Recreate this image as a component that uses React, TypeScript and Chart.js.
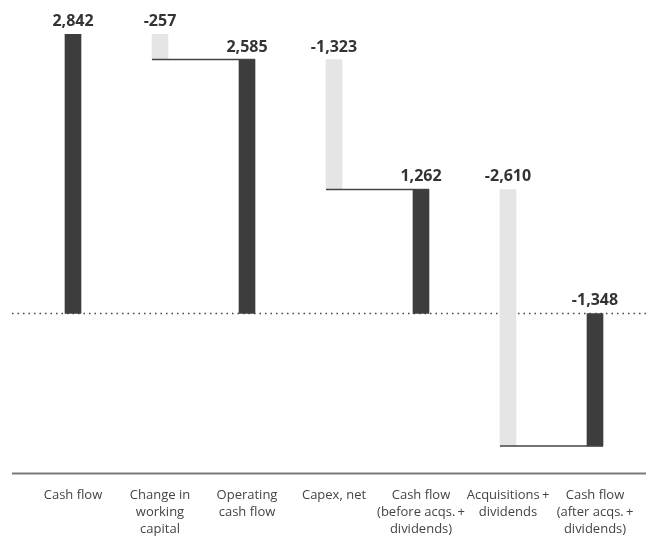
import React, { useEffect, useRef } from "react";
import { Chart, registerables } from "chart.js";

Chart.register(...registerables);

const categories: string[][] = [
  ["Cash flow"],
  ["Change in", "working", "capital"],
  ["Operating", "cash flow"],
  ["Capex, net"],
  ["Cash flow", "(before acqs.\u2009+", "dividends)"],
  ["Acquisitions\u2009+", "dividends"],
  ["Cash flow", "(after acqs.\u2009+", "dividends)"],
];
const values: number[] = [2842, -257, 2585, -1323, 1262, -2610, -1348];
const isTotal: boolean[] = [true, false, true, false, true, false, true];

const Y_MIN = -1629;
const Y_MAX = 3191;

const DARK = "#3d3d3d";
const LIGHT = "#e5e5e6";

function buildRanges(): [number, number][] {
  const out: [number, number][] = [];
  let running = 0;
  values.forEach((v, i) => {
    if (isTotal[i]) {
      out.push([0, v]);
      running = v;
    } else {
      out.push([running + v, running]);
      running += v;
    }
  });
  return out;
}

const fmt = (v: number) => v.toLocaleString("en-US");

const waterfallPlugin = {
  id: "waterfallDecor",
  beforeDatasetsDraw(chart: any) {
    const { ctx, scales } = chart;
    const y0 = scales.y.getPixelForValue(0);
    ctx.save();
    ctx.strokeStyle = "#444";
    ctx.lineWidth = 1.5;
    ctx.setLineDash([1.5, 4]);
    ctx.beginPath();
    ctx.moveTo(12, y0);
    ctx.lineTo(chart.width, y0);
    ctx.stroke();
    ctx.restore();
  },
  afterDatasetsDraw(chart: any) {
    const { ctx, scales, chartArea } = chart;
    const meta = chart.getDatasetMeta(0);
    const ranges = chart.data.datasets[0].data as [number, number][];
    ctx.save();
    // connectors
    ctx.strokeStyle = "#444";
    ctx.lineWidth = 1.5;
    ranges.forEach((r, i) => {
      if (!isTotal[i] && i + 1 < ranges.length) {
        const a = meta.data[i];
        const b = meta.data[i + 1];
        const y = scales.y.getPixelForValue(Math.min(r[0], r[1]));
        ctx.beginPath();
        ctx.moveTo(a.x - a.width / 2, y);
        ctx.lineTo(b.x + b.width / 2, y);
        ctx.stroke();
      }
    });
    // bottom axis line
    ctx.strokeStyle = "#7a7a7a";
    ctx.lineWidth = 2;
    ctx.beginPath();
    ctx.moveTo(12, chartArea.bottom);
    ctx.lineTo(chart.width, chartArea.bottom);
    ctx.stroke();
    // value labels
    ctx.fillStyle = "#333";
    ctx.font = "bold 16px 'Open Sans', sans-serif";
    ctx.textAlign = "center";
    ctx.textBaseline = "alphabetic";
    ranges.forEach((r, i) => {
      const el = meta.data[i];
      const top = scales.y.getPixelForValue(Math.max(r[0], r[1]));
      ctx.fillText(fmt(values[i]), el.x, top - 8);
    });
    ctx.restore();
  },
};

export default function App() {
  const ref = useRef<HTMLCanvasElement | null>(null);
  useEffect(() => {
    if (!ref.current) return;
    const ranges = buildRanges();
    const chart = new Chart(ref.current, {
      type: "bar",
      data: {
        labels: categories,
        datasets: [
          {
            data: ranges as any,
            backgroundColor: isTotal.map((t) => (t ? DARK : LIGHT)),
            borderWidth: 0,
            barThickness: 16,
          },
        ],
      },
      options: {
        animation: false,
        responsive: true,
        maintainAspectRatio: false,
        layout: { padding: { left: 29.5, right: 7.5, top: 0, bottom: 0 } },
        plugins: {
          legend: { display: false },
          tooltip: { enabled: false },
        },
        scales: {
          x: {
            grid: { display: false },
            border: { display: false },
            ticks: {
              color: "#444",
              padding: 5,
              autoSkip: false,
              maxRotation: 0,
              font: { family: "'Open Sans', sans-serif", size: 13, lineHeight: 17 / 13 },
            },
            afterFit: (scale: any) => {
              scale.height = 62.5;
            },
          },
          y: {
            display: false,
            min: Y_MIN,
            max: Y_MAX,
          },
        },
      },
      plugins: [waterfallPlugin],
    });
    return () => chart.destroy();
  }, []);
  return (
    <div style={{ position: "absolute", left: 0, top: 0, width: 646, height: 536 }}>
      <canvas ref={ref} />
    </div>
  );
}
